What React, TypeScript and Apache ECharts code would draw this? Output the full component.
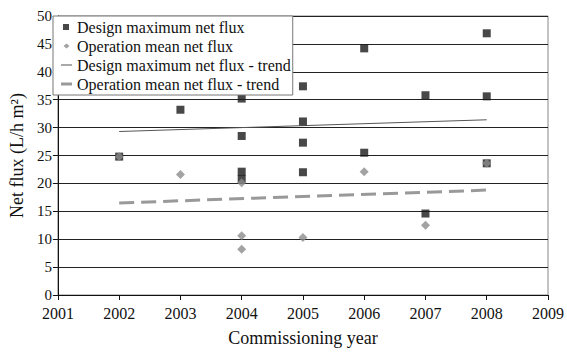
import React, { useEffect, useRef } from "react";
import * as echarts from "echarts";

const designYears = [2002, 2003, 2004, 2004, 2004, 2004, 2005, 2005, 2005, 2005, 2006, 2006, 2007, 2007, 2008, 2008, 2008];
const designFlux = [24.8, 33.2, 35.2, 28.5, 22.1, 20.8, 37.4, 31.1, 27.3, 22.0, 44.2, 25.5, 35.8, 14.6, 46.9, 35.6, 23.6];
const operationYears = [2002, 2003, 2004, 2004, 2004, 2005, 2006, 2007, 2008];
const operationFlux = [24.8, 21.6, 20.1, 10.6, 8.2, 10.3, 22.1, 12.5, 23.6];
const designTrendYears = [2002, 2008];
const designTrendFlux = [29.3, 31.4];
const operationTrendYears = [2002, 2008];
const operationTrendFlux = [16.5, 18.8];

const FONT = "Liberation Serif";

export default function App() {
  const ref = useRef<HTMLDivElement>(null);
  useEffect(() => {
    if (!ref.current) return;
    const chart = echarts.init(ref.current, undefined, { renderer: "svg" });
    const zip = (xs: number[], ys: number[]) => xs.map((x, i) => [x, ys[i]]);
    chart.setOption({
      animation: false,
      backgroundColor: "#fff",
      textStyle: { fontFamily: FONT, color: "#111" },
      grid: {
        left: 52,
        right: 17,
        top: 16,
        bottom: 51,
        show: true,
        borderColor: "#888",
        borderWidth: 1,
      },
      legend: {
        orient: "vertical",
        left: 53,
        top: 16,
        padding: [3, 2, 3, 8],
        itemWidth: 11,
        itemHeight: 7,
        itemGap: 3,
        backgroundColor: "#fff",
        borderColor: "#777",
        borderWidth: 1,
        borderRadius: 0,
        textStyle: { fontFamily: FONT, fontSize: 16, color: "#111", lineHeight: 16, padding: [0, 0, 0, 0] },
        data: [
          { name: "Design maximum net flux", icon: "path://M2,0.5h6v6h-6z M0,0h0.01v7h-0.01z M10.99,0h0.01v7h-0.01z" },
          { name: "Operation mean net flux", icon: "path://M5.5,1l3,2.5l-3,2.5l-3,-2.5z M0,0h0.01v7h-0.01z M10.99,0h0.01v7h-0.01z" },
          { name: "Design maximum net flux - trend", icon: "path://M0,3h11v1h-11z M0,0h0.01v7h-0.01z" },
          { name: "Operation mean net flux - trend", icon: "path://M0,2h11v3h-11z M0,0h0.01v7h-0.01z" },
        ],
      },
      xAxis: {
        type: "value",
        min: 2001,
        max: 2009,
        interval: 1,
        name: "Commissioning year",
        nameLocation: "middle",
        nameGap: 34,
        nameTextStyle: { fontFamily: FONT, fontSize: 18, color: "#111" },
        axisLine: { show: true, lineStyle: { color: "#111", width: 1 } },
        axisTick: { show: true, length: 5, lineStyle: { color: "#111" } },
        axisLabel: { fontFamily: FONT, fontSize: 16, color: "#111", margin: 10, formatter: (v: number) => String(v) },
        splitLine: { show: false },
      },
      yAxis: {
        type: "value",
        min: 0,
        max: 50,
        interval: 5,
        name: "Net flux (L/h m²)",
        nameLocation: "middle",
        nameGap: 29,
        nameTextStyle: { fontFamily: FONT, fontSize: 18, color: "#111" },
        axisLine: { show: true, lineStyle: { color: "#111", width: 1 } },
        axisTick: { show: true, length: 5, lineStyle: { color: "#111" } },
        axisLabel: { fontFamily: FONT, fontSize: 15, color: "#111", margin: 6 },
        splitLine: { show: true, lineStyle: { color: "#222", width: 1 } },
      },
      series: [
        {
          name: "Design maximum net flux",
          type: "scatter",
          symbol: "rect",
          symbolSize: 8,
          itemStyle: { color: "#1a1a1a" },
          data: zip(designYears, designFlux),
          z: 3,
        },
        {
          name: "Operation mean net flux",
          type: "scatter",
          symbol: "diamond",
          symbolSize: 9,
          itemStyle: { color: "#8c8c8c" },
          data: zip(operationYears, operationFlux),
          z: 4,
        },
        {
          name: "Design maximum net flux - trend",
          type: "line",
          symbol: "none",
          lineStyle: { color: "#555", width: 1 },
          itemStyle: { color: "#555" },
          data: zip(designTrendYears, designTrendFlux),
          z: 2,
        },
        {
          name: "Operation mean net flux - trend",
          type: "line",
          symbol: "none",
          lineStyle: { color: "#999", width: 3, type: [15, 7] },
          itemStyle: { color: "#999" },
          data: zip(operationTrendYears, operationTrendFlux),
          z: 2,
        },
      ],
    });
    return () => chart.dispose();
  }, []);
  return <div ref={ref} style={{ width: 567, height: 352, position: "absolute", left: 0, top: 0 }} />;
}
